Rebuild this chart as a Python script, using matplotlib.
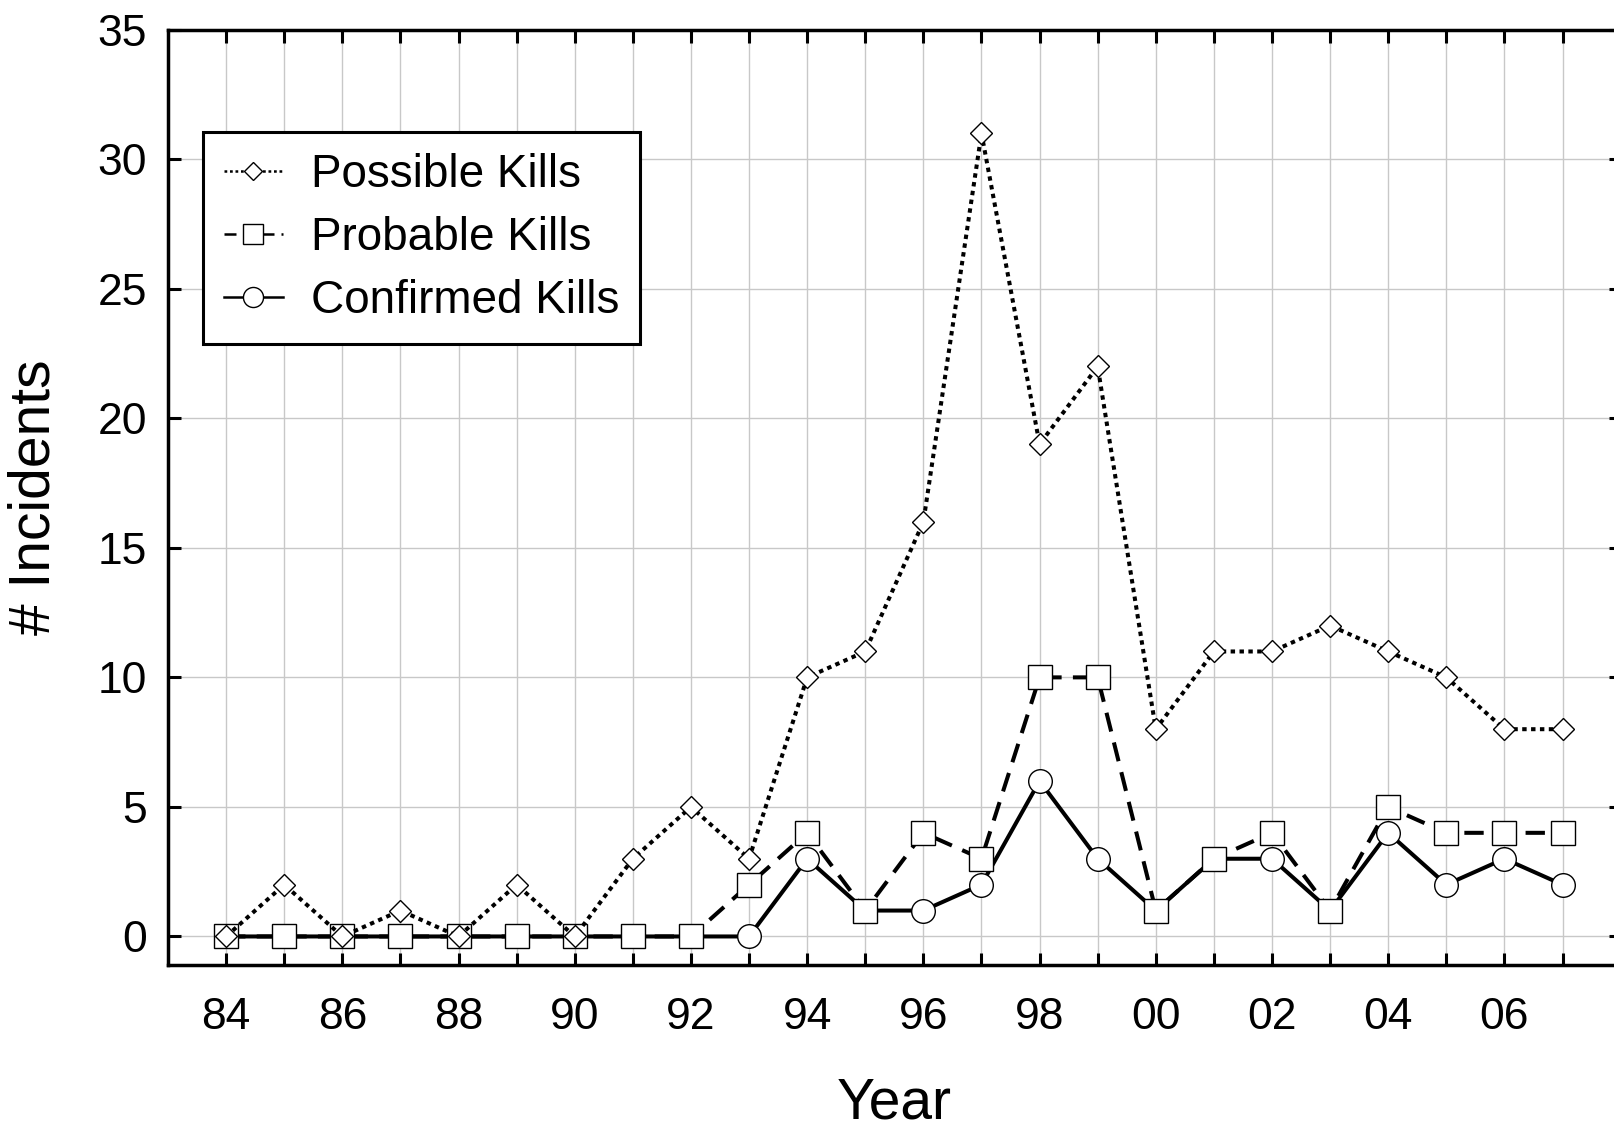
import numpy as np
import matplotlib
matplotlib.use("Agg")
import matplotlib.pyplot as plt

plt.rcParams['font.family'] = ['Liberation Sans', 'DejaVu Sans']

# data
years = list(range(84, 108))
possible = [0, 2, 0, 1, 0, 2, 0, 3, 5, 3, 10, 11, 16, 31, 19, 22, 8, 11, 11, 12, 11, 10, 8, 8]
probable = [0, 0, 0, 0, 0, 0, 0, 0, 0, 2, 4, 1, 4, 3, 10, 10, 1, 3, 4, 1, 5, 4, 4, 4]
confirmed = [0, 0, 0, 0, 0, 0, 0, 0, 0, 0, 3, 1, 1, 2, 6, 3, 1, 3, 3, 1, 4, 2, 3, 2]
xtick_labels = ['84', '', '86', '', '88', '', '90', '', '92', '', '94', '', '96', '',
                '98', '', '00', '', '02', '', '04', '', '06', '']
yticks = [0, 5, 10, 15, 20, 25, 30, 35]

fig = plt.figure(figsize=(16.14, 11.29), dpi=100)
ax = fig.add_axes([0.1041, 0.1453, 0.900, 0.8284])

lc, = ax.plot(years, confirmed, color='black', lw=2.9, linestyle='-',
              marker='o', ms=17, mfc='white', mec='black', mew=1.0, zorder=3)
lp, = ax.plot(years, probable, color='black', lw=2.9, linestyle=(0, (4.8, 2.8)),
              marker='s', ms=17, mfc='white', mec='black', mew=1.0, zorder=4)
ls, = ax.plot(years, possible, color='black', lw=2.9, linestyle=(0, (1.1, 1.1)),
              marker='D', ms=11, mfc='white', mec='black', mew=1.0, zorder=5)

ax.set_xlim(83, 108)
ax.set_ylim(-1.1, 35)
ax.set_xticks(years)
ax.set_xticklabels(xtick_labels)
ax.set_yticks(yticks)
ax.grid(True, color='#c8c8c8', lw=1.0)
ax.set_axisbelow(True)

ax.tick_params(direction='in', top=True, right=True, length=9, width=2.2,
               labelsize=32)
ax.tick_params(axis='x', pad=23)
ax.tick_params(axis='y', pad=15)
for sp in ax.spines.values():
    sp.set_linewidth(2.5)

ax.set_xlabel('Year', fontsize=41, labelpad=28)
ax.set_ylabel('# Incidents', fontsize=41, labelpad=26)

leg = ax.legend([ls, lp, lc], ['Possible Kills', 'Probable Kills', 'Confirmed Kills'],
                loc='upper left', bbox_to_anchor=(0.0241, 0.8906), borderaxespad=0,
                fontsize=33, fancybox=False, framealpha=1, edgecolor='black',
                markerscale=0.85, handlelength=1.3, handletextpad=0.6,
                borderpad=0.45, labelspacing=0.42)
leg.get_frame().set_linewidth(2.2)
for h in leg.legend_handles:
    h.set_linewidth(1.8)

fig.savefig('out.png', dpi=100)
